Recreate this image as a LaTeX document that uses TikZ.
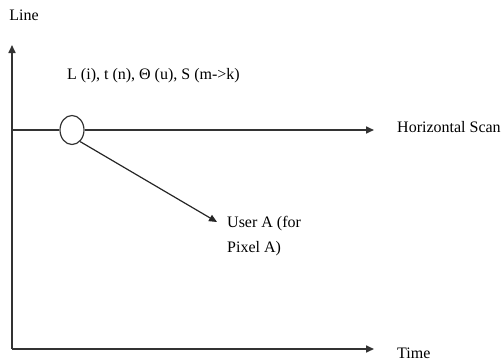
\documentclass[tikz,border=0pt]{standalone}
\usepackage{fontspec}
\setmainfont{Liberation Serif}
\usetikzlibrary{arrows.meta,shapes.geometric}
\begin{document}
\begin{tikzpicture}[x=1pt,y=-1pt,
  axis/.style={draw=black!80,line width=1.6pt},
  tip/.style={-{Triangle[length=8pt,width=7pt]}},
  lbl/.style={font=\fontsize{16}{25}\selectfont,inner sep=0pt,text=black},
  ring/.style={ellipse,draw=black!80,line width=1.2pt,minimum width=24pt,minimum height=29pt,inner sep=0pt}]
\useasboundingbox (0,0) rectangle (501,362);
\coordinate (o) at (12,349);
\coordinate (ytop) at (12,45);
\coordinate (xend) at (374,349);
\coordinate (s0) at (12,130);
\coordinate (s1) at (374,130);
\coordinate (ua) at (217,222);
\node[ring] (c) at (72,130) {};
\node[lbl] (line) at (24,15) {Line};
\node[lbl,anchor=west] (params) at (67,76) {L (i), t (n), \char"0398{} (u), S (m->k)};
\node[lbl,anchor=west] (hs) at (397,127) {Horizontal Scan};
\node[lbl,anchor=west] (time) at (397,353) {Time};
\node[lbl,anchor=north west,align=left] (user) at (227,216) {User A (for\\Pixel A)};
\draw[axis,tip] (o) -- (ytop);
\draw[axis,tip] (o) -- (xend);
\draw[axis] (s0) -- (c.west);
\draw[axis,tip] (c.east) -- (s1);
\draw[draw=black!85,line width=1.2pt,tip] (c.-55) -- (ua);
\end{tikzpicture}
\end{document}
